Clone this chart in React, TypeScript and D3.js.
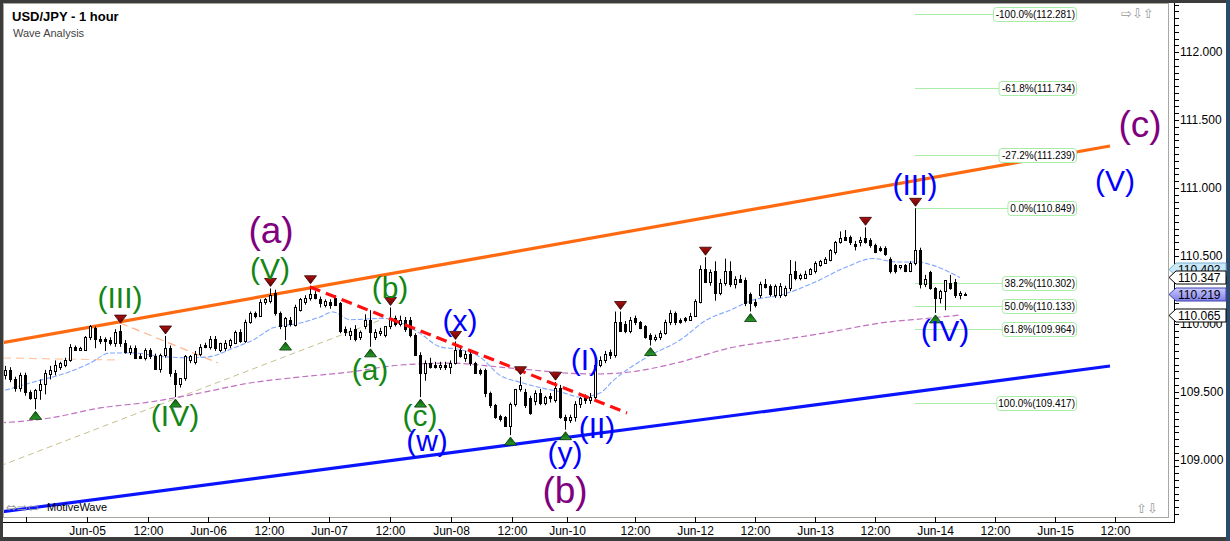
import * as d3 from 'd3';

// hourly candles, [open, high, low, close]
const candles: number[][] = [
  [109.62, 109.69, 109.59, 109.66], [109.66, 109.68, 109.57, 109.59], [109.59, 109.61, 109.50, 109.53],
  [109.53, 109.64, 109.50, 109.62], [109.62, 109.64, 109.47, 109.50], [109.50, 109.51, 109.44, 109.45],
  [109.45, 109.52, 109.37, 109.51], [109.51, 109.59, 109.44, 109.56], [109.56, 109.66, 109.48, 109.64],
  [109.63, 109.69, 109.59, 109.66], [109.65, 109.73, 109.62, 109.70], [109.68, 109.72, 109.66, 109.71],
  [109.70, 109.75, 109.68, 109.73], [109.73, 109.85, 109.72, 109.83], [109.83, 109.84, 109.80, 109.81],
  [109.81, 109.83, 109.80, 109.82], [109.81, 109.91, 109.80, 109.90], [109.90, 109.99, 109.88, 109.98],
  [109.97, 109.98, 109.82, 109.89], [109.89, 109.91, 109.85, 109.87], [109.89, 109.90, 109.80, 109.87],
  [109.88, 109.90, 109.84, 109.86], [109.86, 109.96, 109.83, 109.94], [109.95, 109.99, 109.83, 109.86],
  [109.86, 109.88, 109.78, 109.79], [109.79, 109.84, 109.77, 109.82], [109.82, 109.84, 109.74, 109.75],
  [109.76, 109.78, 109.74, 109.75], [109.75, 109.82, 109.73, 109.81], [109.81, 109.82, 109.74, 109.76],
  [109.76, 109.78, 109.66, 109.67], [109.67, 109.78, 109.64, 109.77], [109.77, 109.91, 109.75, 109.82],
  [109.82, 109.84, 109.61, 109.64], [109.64, 109.66, 109.46, 109.56], [109.56, 109.60, 109.53, 109.60],
  [109.60, 109.77, 109.58, 109.76], [109.73, 109.77, 109.71, 109.76], [109.72, 109.80, 109.70, 109.78],
  [109.78, 109.85, 109.76, 109.83], [109.84, 109.86, 109.82, 109.83], [109.83, 109.91, 109.81, 109.89],
  [109.89, 109.91, 109.80, 109.82], [109.81, 109.86, 109.79, 109.86], [109.82, 109.88, 109.80, 109.86],
  [109.84, 109.89, 109.82, 109.88], [109.86, 109.95, 109.85, 109.94], [109.94, 109.96, 109.86, 109.87],
  [109.87, 110.03, 109.86, 110.01], [110.01, 110.09, 110.00, 110.08], [110.08, 110.09, 110.04, 110.06],
  [110.06, 110.18, 110.05, 110.16], [110.16, 110.19, 110.14, 110.18], [110.17, 110.26, 110.15, 110.21],
  [110.23, 110.25, 110.06, 110.08], [110.08, 110.09, 109.96, 109.98], [109.98, 110.05, 109.88, 110.04],
  [110.03, 110.05, 109.98, 110.00], [109.99, 110.14, 109.98, 110.12], [110.10, 110.19, 110.09, 110.18],
  [110.16, 110.21, 110.14, 110.19], [110.19, 110.28, 110.17, 110.22], [110.22, 110.24, 110.18, 110.19],
  [110.18, 110.20, 110.12, 110.15], [110.14, 110.18, 110.12, 110.17], [110.16, 110.18, 110.11, 110.14],
  [110.19, 110.21, 110.13, 110.14], [110.15, 110.16, 109.93, 109.95], [109.96, 109.98, 109.91, 109.94],
  [109.92, 109.97, 109.88, 109.95], [109.96, 109.99, 109.87, 109.89], [109.90, 109.95, 109.88, 109.94],
  [109.98, 110.07, 109.96, 110.03], [110.03, 110.10, 109.83, 109.94], [109.90, 109.96, 109.88, 109.94],
  [109.93, 109.97, 109.91, 109.95], [109.92, 109.98, 109.90, 109.98], [109.98, 110.12, 109.96, 110.04],
  [110.04, 110.06, 109.98, 110.00], [110.00, 110.06, 109.98, 110.03], [110.03, 110.05, 109.94, 109.96],
  [110.03, 110.05, 109.90, 109.92], [109.92, 109.93, 109.77, 109.77], [109.77, 109.79, 109.46, 109.64],
  [109.64, 109.73, 109.58, 109.71], [109.71, 109.75, 109.67, 109.68], [109.70, 109.72, 109.67, 109.68],
  [109.68, 109.72, 109.66, 109.70], [109.70, 109.72, 109.66, 109.68], [109.68, 109.73, 109.63, 109.71],
  [109.71, 109.87, 109.70, 109.81], [109.81, 109.83, 109.75, 109.76], [109.75, 109.80, 109.72, 109.78],
  [109.78, 109.80, 109.69, 109.71], [109.71, 109.72, 109.63, 109.64], [109.66, 109.67, 109.62, 109.64],
  [109.66, 109.67, 109.46, 109.49], [109.49, 109.50, 109.38, 109.40], [109.40, 109.41, 109.30, 109.31],
  [109.32, 109.33, 109.28, 109.30], [109.31, 109.32, 109.24, 109.25], [109.25, 109.42, 109.18, 109.41],
  [109.41, 109.52, 109.39, 109.52], [109.52, 109.61, 109.50, 109.55], [109.50, 109.52, 109.38, 109.40],
  [109.45, 109.47, 109.33, 109.34], [109.43, 109.51, 109.40, 109.49], [109.49, 109.52, 109.40, 109.42],
  [109.42, 109.47, 109.40, 109.46], [109.47, 109.49, 109.42, 109.45], [109.44, 109.57, 109.42, 109.53],
  [109.53, 109.55, 109.30, 109.31], [109.31, 109.33, 109.22, 109.29], [109.29, 109.33, 109.27, 109.31],
  [109.31, 109.43, 109.28, 109.41], [109.41, 109.46, 109.38, 109.45], [109.46, 109.48, 109.41, 109.44],
  [109.44, 109.49, 109.41, 109.46], [109.46, 109.73, 109.44, 109.70], [109.70, 109.76, 109.68, 109.73],
  [109.73, 109.80, 109.71, 109.78], [109.79, 109.81, 109.74, 109.77], [109.77, 110.09, 109.75, 110.01],
  [110.01, 110.09, 109.94, 109.95], [110.00, 110.02, 109.93, 109.95], [109.95, 110.05, 109.93, 110.03],
  [110.04, 110.06, 109.99, 110.01], [110.01, 110.02, 109.96, 109.97], [109.98, 109.99, 109.89, 109.90],
  [109.92, 109.93, 109.84, 109.89], [109.89, 109.92, 109.87, 109.90], [109.90, 109.95, 109.88, 109.93],
  [109.93, 110.03, 109.92, 110.01], [110.01, 110.10, 109.99, 110.08], [110.08, 110.09, 109.99, 110.01],
  [110.03, 110.04, 110.00, 110.01], [110.04, 110.05, 110.01, 110.03], [110.03, 110.08, 110.02, 110.06],
  [110.06, 110.18, 110.05, 110.17], [110.16, 110.43, 110.15, 110.40], [110.40, 110.49, 110.30, 110.31],
  [110.31, 110.40, 110.28, 110.38], [110.39, 110.46, 110.17, 110.23], [110.23, 110.33, 110.21, 110.30],
  [110.30, 110.48, 110.28, 110.39], [110.39, 110.46, 110.27, 110.29], [110.29, 110.35, 110.26, 110.33],
  [110.33, 110.36, 110.30, 110.31], [110.32, 110.34, 110.13, 110.15], [110.22, 110.23, 110.09, 110.15],
  [110.16, 110.18, 110.12, 110.14], [110.21, 110.31, 110.19, 110.29], [110.29, 110.33, 110.26, 110.27],
  [110.28, 110.29, 110.20, 110.22], [110.21, 110.29, 110.19, 110.28], [110.21, 110.30, 110.19, 110.28],
  [110.21, 110.28, 110.20, 110.26], [110.26, 110.47, 110.24, 110.37], [110.39, 110.46, 110.32, 110.34],
  [110.34, 110.37, 110.32, 110.36], [110.34, 110.39, 110.33, 110.37], [110.37, 110.41, 110.36, 110.40],
  [110.39, 110.46, 110.37, 110.45], [110.43, 110.47, 110.42, 110.46], [110.45, 110.49, 110.44, 110.48],
  [110.47, 110.55, 110.46, 110.54], [110.53, 110.61, 110.51, 110.60], [110.60, 110.68, 110.59, 110.63],
  [110.64, 110.69, 110.61, 110.62], [110.64, 110.65, 110.58, 110.60], [110.59, 110.61, 110.54, 110.57],
  [110.60, 110.64, 110.57, 110.62], [110.63, 110.71, 110.59, 110.60], [110.62, 110.63, 110.56, 110.58],
  [110.58, 110.59, 110.52, 110.53], [110.56, 110.57, 110.53, 110.54], [110.56, 110.57, 110.50, 110.51],
  [110.48, 110.49, 110.37, 110.39], [110.43, 110.44, 110.37, 110.39], [110.42, 110.43, 110.40, 110.43],
  [110.43, 110.44, 110.38, 110.39], [110.39, 110.46, 110.38, 110.45], [110.45, 110.85, 110.43, 110.54],
  [110.54, 110.56, 110.26, 110.29], [110.29, 110.36, 110.27, 110.33], [110.38, 110.39, 110.25, 110.26],
  [110.26, 110.27, 110.08, 110.19], [110.19, 110.25, 110.15, 110.24], [110.24, 110.32, 110.10, 110.32],
  [110.30, 110.36, 110.25, 110.26], [110.31, 110.33, 110.19, 110.21], [110.21, 110.24, 110.18, 110.23],
  [110.22, 110.23, 110.21, 110.22],
];

const timeTickBars = [4.2, 16.4, 28.6, 40.6, 52.8, 64.8, 77, 89.2, 101.4, 112.4, 126, 138, 150, 162, 174, 186, 198, 210, 222];
const timeTickLabels = ['', 'Jun-05', '12:00', 'Jun-06', '12:00', 'Jun-07', '12:00', 'Jun-08', '12:00', 'Jun-10',
  '12:00', 'Jun-12', '12:00', 'Jun-13', '12:00', 'Jun-14', '12:00', 'Jun-15', '12:00'];

const priceLabels = [109, 109.5, 110, 110.5, 111, 111.5, 112];

// swing markers (bar indices)
const peakBars = [23, 32, 53, 61, 77, 90, 103, 110, 123, 140, 172, 182];
const troughBars = [6, 34, 56, 73, 83, 101, 112, 129, 149, 186];

// moving averages, [bar, price]
const blueMa = [
  [0, 109.51], [5.6, 109.57], [12.4, 109.64], [17, 109.71], [21, 109.785], [25.6, 109.785], [31, 109.76],
  [36.4, 109.75], [40.4, 109.755], [45.6, 109.82], [49.6, 109.88], [53.6, 109.97], [59, 110.005],
  [63, 110.05], [65.6, 110.087], [69, 110.03], [75.6, 110.04], [79, 110.01], [83, 109.93], [87, 109.83],
  [91, 109.81], [95, 109.755], [99, 109.62], [103, 109.57], [107, 109.53], [111, 109.5], [115, 109.46],
  [119, 109.49], [121.6, 109.58], [128.4, 109.755], [135, 109.88], [140.4, 110.03], [145, 110.1],
  [149.6, 110.175], [155, 110.21], [161.6, 110.3], [168.4, 110.42], [173.6, 110.48], [178.4, 110.455],
  [182.4, 110.455], [185.6, 110.43], [191, 110.34],
];
const purpleMa = [
  [-1, 109.27], [9, 109.306], [19, 109.38], [29, 109.424], [39, 109.49], [49, 109.564], [59, 109.608],
  [69, 109.645], [79, 109.696], [89, 109.71], [99, 109.681], [105.6, 109.659], [112.4, 109.637],
  [118, 109.63], [125, 109.645], [135, 109.718], [145, 109.822], [155, 109.88], [165, 109.939],
  [175, 110.005], [185, 110.042], [191, 110.064],
];

// drawn lines, [bar, price] end points
const orangeChannel = [[-1, 109.858], [221, 111.309]];
const blueChannel = [[-1, 108.614], [221, 109.689]];
const redTrend = [[61, 110.271], [124.4, 109.343]];
const khakiTrend = [[-1, 108.953], [75.6, 110.035]];
const peachLineA = [[-0.4, 109.748], [23, 109.733]];
const peachLineB = [[23, 110.006], [42.6, 109.711]];

// fibonacci levels
const fibPcts = ['-100.0%', '-61.8%', '-27.2%', '0.0%', '38.2%', '50.0%', '61.8%', '100.0%'];
const fibPrices = [112.281, 111.734, 111.239, 110.849, 110.302, 110.133, 109.964, 109.417];
const fibStartBar = 182;

// wave labels
const waveTexts = ['(a)', '(b)', '(c)', '(III)', '(V)', '(IV)', '(b)', '(a)', '(c)',
  '(x)', '(w)', '(y)', '(I)', '(II)', '(III)', '(IV)', '(V)'];
const waveBars = [53.2, 112, 227, 23, 53, 34, 77, 73, 83, 91, 84.4, 112, 116, 118.4, 182, 188, 222];
const wavePrices = [110.668, 108.754, 111.449, 110.175, 110.389, 109.306, 110.249, 109.645, 109.306,
  110.006, 109.122, 109.034, 109.718, 109.218, 111.007, 109.932, 111.037];
const waveDegrees = [0, 0, 0, 1, 1, 1, 1, 1, 1, 2, 2, 2, 2, 2, 2, 2, 2];
const degreeColors = ['#800080', '#138613', '#0000ff'];
const degreeSizes = [37, 30, 30];

// right-axis price markers
const markerPrices = [110.402, 110.347, 110.219, 110.065];

const FONT = '"Liberation Sans", Arial, Helvetica, sans-serif';
const W = 1230;
const H = 541;
const PL = 3, PR = 1168, PT = 3, PB = 517;

const charW: Record<string, number> = { '.': 0.278, '%': 0.889, '(': 0.333, ')': 0.333, '-': 0.333 };
const textWidth = (s: string, size: number) =>
  s.split('').reduce((a, c) => a + (charW[c] ?? 0.556), 0) * size;

export default function App() {
  const x = d3.scaleLinear().domain([0, 233]).range([5, 1170]);
  const y = d3.scaleLinear().domain([108.555, 112.384]).range([520, 0]);

  const seg = d3.line<number[]>().x(d => x(d[0])).y(d => y(d[1]));
  const smooth = d3.line<number[]>().x(d => x(d[0])).y(d => y(d[1])).curve(d3.curveMonotoneX);

  const minorTicks = d3.range(108.6, 112.38, 0.05);

  return (
    <svg width={W} height={H} style={{ position: 'absolute', left: 0, top: 0, fontFamily: FONT }}>
      <defs>
        <clipPath id="plot">
          <rect x={PL} y={PT} width={PR - PL} height={PB - PT} />
        </clipPath>
        <linearGradient id="redTri" x1="0" y1="0" x2="0" y2="1">
          <stop offset="0" stopColor="#b01010" />
          <stop offset="1" stopColor="#5a0000" />
        </linearGradient>
        <linearGradient id="greenTri" x1="0" y1="0" x2="0" y2="1">
          <stop offset="0" stopColor="#0a5a0a" />
          <stop offset="1" stopColor="#2a9a2a" />
        </linearGradient>
        <linearGradient id="lastPx" x1="0" y1="0" x2="0" y2="1">
          <stop offset="0" stopColor="#c8c8ff" />
          <stop offset="1" stopColor="#8080e8" />
        </linearGradient>
      </defs>

      <rect width={W} height={H} fill="#3c3c3c" />
      <rect x={1226} y={0} width={4} height={H} fill="#2c4a6a" />
      <rect x={3} y={3} width={1223} height={534} fill="#fff" />

      <g clipPath="url(#plot)">
        {/* indicator lines */}
        <path d={seg(khakiTrend) || ''} fill="none" stroke="#c8c090" strokeWidth={1} strokeDasharray="6,4" />
        <path d={seg(peachLineA) || ''} fill="none" stroke="#ffc8a8" strokeWidth={1.2} strokeDasharray="8,5" />
        <path d={seg(peachLineB) || ''} fill="none" stroke="#ffb088" strokeWidth={1.2} strokeDasharray="8,5" />
        <path d={smooth(purpleMa) || ''} fill="none" stroke="#c070c0" strokeWidth={1.2} strokeDasharray="6,3" />
        <path d={smooth(blueMa) || ''} fill="none" stroke="#7fa6ff" strokeWidth={1.1} strokeDasharray="5,2" />

        {/* fib levels */}
        {fibPrices.map((p, i) => {
          const yy = Math.round(y(p)) + 0.5;
          const w = textWidth(`${fibPcts[i]}(${p.toFixed(3)})`, 10);
          return (
            <line key={'fl' + i} x1={x(fibStartBar)} x2={1074 - w} y1={yy} y2={yy} stroke="#a8eca8" strokeWidth={1} />
          );
        })}

        {/* channel */}
        <path d={seg(orangeChannel) || ''} fill="none" stroke="#ff6a10" strokeWidth={3.2} />
        <path d={seg(blueChannel) || ''} fill="none" stroke="#0a14ff" strokeWidth={3.2} />

        {/* candles */}
        {candles.map((c, i) => {
          const [o, h, l, cl] = c;
          const cx = Math.round(x(i));
          const up = cl >= o;
          const top = Math.round(y(Math.max(o, cl)));
          const bot = Math.round(y(Math.min(o, cl)));
          const bh = Math.max(1, bot - top);
          return (
            <g key={'c' + i}>
              <line x1={cx + 0.5} x2={cx + 0.5} y1={y(h)} y2={y(l)} stroke="#000" strokeWidth={1} />
              {up ? (
                <rect x={cx - 0.5} y={top + 0.5} width={2} height={bh} fill="#fff" stroke="#000" strokeWidth={1} />
              ) : (
                <rect x={cx - 1} y={top} width={3} height={bh + 1} fill="#000" />
              )}
            </g>
          );
        })}

        <path d={seg(redTrend) || ''} fill="none" stroke="#ff1010" strokeWidth={3.2} strokeDasharray="11,6" />

        {/* swing markers */}
        {peakBars.map(b => {
          const cx = Math.round(x(b)) + 0.5;
          const t = y(candles[b][1]) - 2;
          return (
            <path key={'pk' + b} d={`M${cx - 6},${t - 8}L${cx + 6},${t - 8}L${cx},${t}Z`}
              fill="url(#redTri)" stroke="#300000" strokeWidth={0.8} />
          );
        })}
        {troughBars.map(b => {
          const cx = Math.round(x(b)) + 0.5;
          const t = y(candles[b][2]) + 2;
          return (
            <path key={'tr' + b} d={`M${cx - 6},${t + 8}L${cx + 6},${t + 8}L${cx},${t}Z`}
              fill="url(#greenTri)" stroke="#003000" strokeWidth={0.8} />
          );
        })}

        {/* wave labels */}
        {waveTexts.map((t, i) => (
          <text key={'w' + i} x={x(waveBars[i])} y={y(wavePrices[i])} dy="0.27em" textAnchor="middle"
            fontSize={degreeSizes[waveDegrees[i]]} fill={degreeColors[waveDegrees[i]]}>
            {t}
          </text>
        ))}

        {/* fib labels */}
        {fibPrices.map((p, i) => {
          const yy = Math.round(y(p)) + 0.5;
          const s = `${fibPcts[i]}(${p.toFixed(3)})`;
          const w = textWidth(s, 10);
          return (
            <g key={'fb' + i}>
              <rect x={1074 - w - 0.5} y={yy - 7} width={w + 3} height={14} rx={3} fill="#fff" stroke="#a8eca8" strokeWidth={1} />
              <text x={1075} y={yy} dy="0.35em" textAnchor="end" fontSize={10} fill="#000">{s}</text>
            </g>
          );
        })}
      </g>

      {/* titles */}
      <text x={12} y={21} fontSize={13} fontWeight="bold" fill="#000">USD/JPY - 1 hour</text>
      <text x={13} y={37} fontSize={11} fill="#444">Wave Analysis</text>

      <text x={6} y={512} fontSize={13} fill="#999" fontFamily="DejaVu Sans">⇔⇨⇦</text>
      <text x={47} y={511} fontSize={11} fill="#000">MotiveWave</text>
      <text x={1121} y={18} fontSize={13} fill="#999" fontFamily="DejaVu Sans">⇨⇩⇧</text>
      <text x={1136} y={513} fontSize={13} fill="#999" fontFamily="DejaVu Sans">⇧⇩</text>

      {/* plot border */}
      <rect x={PL + 0.5} y={PT + 0.5} width={PR - PL} height={PB - PT} fill="none" stroke="#a8a8a0" strokeWidth={1} />

      {/* time axis */}
      <line x1={3} x2={1175} y1={522.5} y2={522.5} stroke="#000" />
      {timeTickBars.map((b, i) => {
        const tx = Math.round(x(b)) + 0.5;
        return (
          <g key={'tt' + i}>
            <line x1={tx} x2={tx} y1={PB} y2={522} stroke="#000" />
            <text x={tx} y={535} textAnchor="middle" fontSize={12} fill="#000">{timeTickLabels[i]}</text>
          </g>
        );
      })}

      {/* price axis */}
      <line x1={1174.5} x2={1174.5} y1={3} y2={523} stroke="#000" />
      {minorTicks.map((p, i) => {
        const ty = Math.round(y(p)) + 0.5;
        return <line key={'mt' + i} x1={1175} x2={1179} y1={ty} y2={ty} stroke="#000" />;
      })}
      {priceLabels.map(p => (
        <text key={'pl' + p} x={1180} y={y(p)} dy="0.36em" fontSize={12} fill="#000">{p.toFixed(3)}</text>
      ))}

      {/* price markers */}
      {markerPrices.map((p, i) => {
        const yy = Math.round(y(p)) + 0.5;
        const fill = i === 0 ? '#c8e8f8' : i === 2 ? 'url(#lastPx)' : '#fff';
        const stroke = i === 0 ? '#7ab0d0' : i === 2 ? '#4040b0' : '#000';
        return (
          <g key={'mk' + i}>
            <path d={`M1169,${yy}L1176,${yy - 6.5}L1226,${yy - 6.5}L1226,${yy + 6.5}L1176,${yy + 6.5}Z`}
              fill={fill} stroke={stroke} strokeWidth={1} />
            <text x={1178} y={yy} dy="0.36em" fontSize={12} fill="#000">{p.toFixed(3)}</text>
          </g>
        );
      })}
    </svg>
  );
}
